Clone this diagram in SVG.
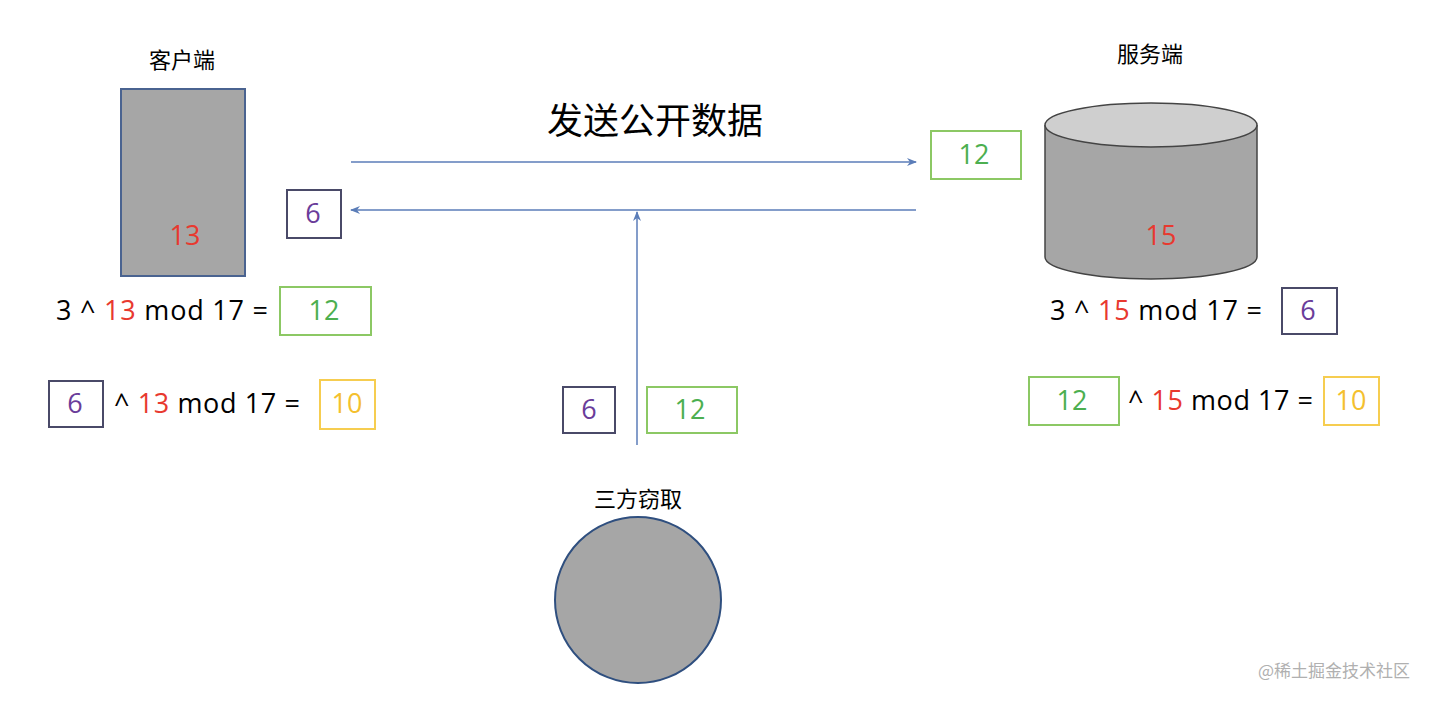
<svg xmlns="http://www.w3.org/2000/svg" width="1430" height="702" viewBox="0 0 1430 702">
<style>
text{font-family:"Open Sans","Liberation Sans","Noto Sans CJK SC",sans-serif;font-size:27px;fill:#000}
.cjk{font-family:"Noto Sans CJK SC",sans-serif;font-size:22px}
.r{fill:#e8392f}.g{fill:#4caf50}.p{fill:#6a3d9a}.y{fill:#f4c02e}
.bg{fill:#fff;stroke:#8cc864;stroke-width:2}.bp{fill:#fff;stroke:#4a4a68;stroke-width:2}.by{fill:#fff;stroke:#f6cd50;stroke-width:2}
.ln{stroke:#5b7db8;stroke-width:1.5;fill:none}
</style>
<defs><marker id="a" markerWidth="10" markerHeight="8" refX="9" refY="4" orient="auto" markerUnits="userSpaceOnUse"><path d="M0,0 L10,4 L0,8 L3,4z" fill="#5b7db8"/></marker></defs>
<rect width="1430" height="702" fill="#fff"/>
<g id="client"><text class="cjk" x="182" y="68" text-anchor="middle">客户端</text>
<rect x="121" y="89" width="124" height="187" fill="#a6a6a6" stroke="#4a6390" stroke-width="2"/>
<text class="r" x="185" y="245" text-anchor="middle">13</text></g>
<g id="server"><text class="cjk" x="1150" y="62" text-anchor="middle">服务端</text>
<path d="M1045,125 V257 A106,22 0 0 0 1257,257 V125" fill="#a6a6a6" stroke="#444" stroke-width="1.5"/>
<ellipse cx="1151" cy="125" rx="106" ry="22" fill="#cfcfcf" stroke="#444" stroke-width="1.5"/>
<text class="r" x="1161" y="245" text-anchor="middle">15</text></g>
<g id="eve"><text class="cjk" x="638" y="507" text-anchor="middle">三方窃取</text>
<circle cx="638" cy="600" r="83" fill="#a6a6a6" stroke="#2f4f7f" stroke-width="2"/></g>
<g id="title"><text class="cjk" x="655" y="134" text-anchor="middle" style="font-size:36px">发送公开数据</text></g>
<g id="connectors">
<line class="ln" x1="351" y1="162" x2="916" y2="162" marker-end="url(#a)"/>
<line class="ln" x1="916" y1="210" x2="351" y2="210" marker-end="url(#a)"/>
<line class="ln" x1="637" y1="445" x2="637" y2="212" marker-end="url(#a)"/>
</g>
<g id="b1"><rect class="bg" x="931" y="131" width="90" height="48"/><text class="g" x="974" y="164" text-anchor="middle">12</text></g>
<g id="b2"><rect class="bp" x="287" y="190" width="54" height="48"/><text class="p" x="313" y="223" text-anchor="middle">6</text></g>
<g id="eq1"><text x="56" y="320" textLength="212">3 ^ <tspan class="r">13</tspan> mod 17 =</text>
<rect class="bg" x="280" y="287" width="91" height="48"/><text class="g" x="324" y="320" text-anchor="middle">12</text></g>
<g id="eq2"><rect class="bp" x="49" y="381" width="54" height="46"/><text class="p" x="75" y="413" text-anchor="middle">6</text>
<text x="114" y="413" textLength="186">^ <tspan class="r">13</tspan> mod 17 =</text>
<rect class="by" x="320" y="380" width="55" height="49"/><text class="y" x="347" y="413" text-anchor="middle">10</text></g>
<g id="eve-data"><rect class="bp" x="563" y="387" width="52" height="46"/><text class="p" x="589" y="419" text-anchor="middle">6</text>
<rect class="bg" x="647" y="387" width="90" height="46"/><text class="g" x="690" y="419" text-anchor="middle">12</text></g>
<g id="eq3"><text x="1050" y="320" textLength="212">3 ^ <tspan class="r">15</tspan> mod 17 =</text>
<rect class="bp" x="1282" y="288" width="55" height="46"/><text class="p" x="1308" y="320" text-anchor="middle">6</text></g>
<g id="eq4"><rect class="bg" x="1029" y="377" width="90" height="48"/><text class="g" x="1072" y="410" text-anchor="middle">12</text>
<text x="1128" y="410" textLength="185">^ <tspan class="r">15</tspan> mod 17 =</text>
<rect class="by" x="1324" y="377" width="55" height="48"/><text class="y" x="1351" y="410" text-anchor="middle">10</text></g>
<text x="1410" y="677" text-anchor="end" style="font-family:'Noto Sans CJK SC',sans-serif;font-size:17px;fill:#b0b0b0">@稀土掘金技术社区</text>
</svg>
